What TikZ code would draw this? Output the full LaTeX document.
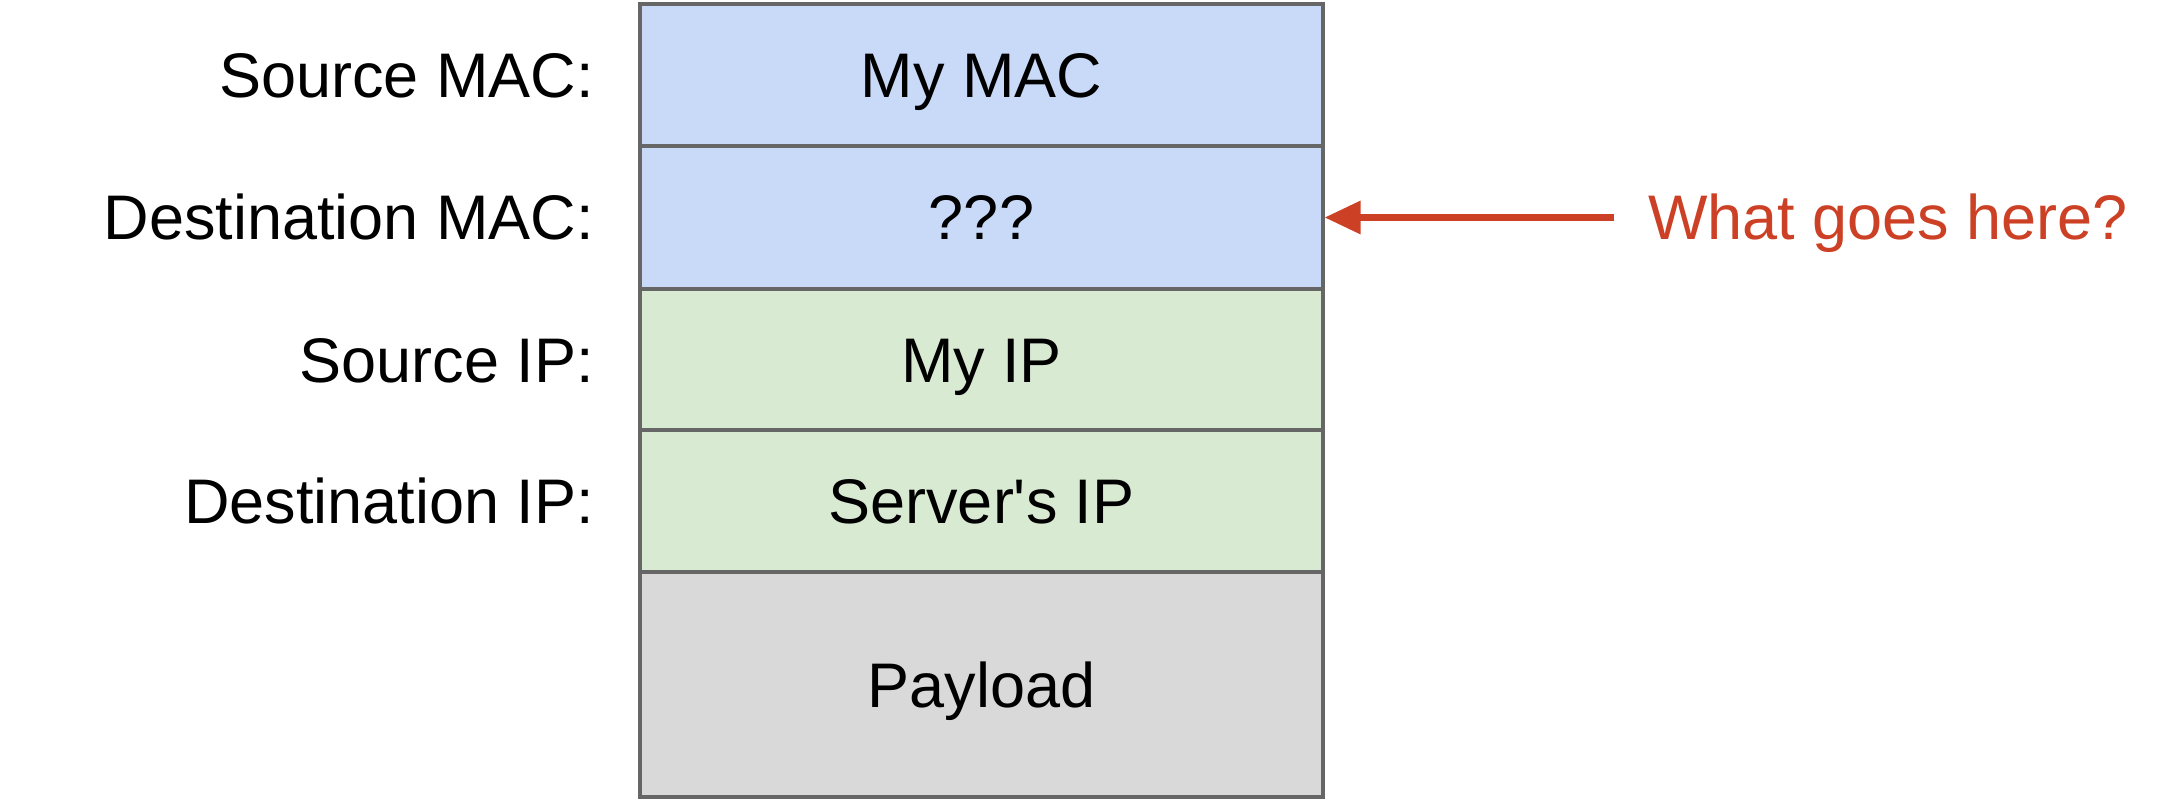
\documentclass[tikz,border=0pt]{standalone}
\usepackage{fontspec}
\setmainfont{Liberation Sans}[Ligatures=TeXOff]
\usetikzlibrary{arrows.meta}

\definecolor{macblue}{HTML}{C9DAF8}
\definecolor{ipgreen}{HTML}{D9EAD3}
\definecolor{loadgray}{HTML}{D9D9D9}
\definecolor{framegray}{HTML}{666666}
\definecolor{noteRed}{HTML}{CC4125}

\tikzset{
  txt/.style={font=\fontsize{63}{75}\selectfont, text height=45pt, text depth=0pt, inner sep=0pt},
  field/.style={txt, draw=framegray, line width=3.2pt, minimum width=683pt},
  label/.style={txt, anchor=east},
  note/.style={txt, text=noteRed, anchor=west},
  pointer/.style={draw=noteRed, line width=6.5pt, -{Triangle[length=36pt, width=32pt]}}
}

\begin{document}
\begin{tikzpicture}[x=1pt, y=-1pt]
  \useasboundingbox (0,0) rectangle (2177,802);

  % header fields, top to bottom
  \node[field, fill=macblue,  minimum height=142pt] (smac) at (981.5,75)    {My MAC};
  \node[field, fill=macblue,  minimum height=143pt] (dmac) at (981.5,217.5) {???};
  \node[field, fill=ipgreen,  minimum height=141pt] (sip)  at (981.5,359.5) {My IP};
  \node[field, fill=ipgreen,  minimum height=142pt] (dip)  at (981.5,501)   {Server's IP};
  \node[field, fill=loadgray, minimum height=225pt] (load) at (981.5,684.5) {Payload};

  % field names on the left
  \node[label] (lsmac) at (594,75)    {Source MAC:};
  \node[label] (ldmac) at (594,217.5) {Destination MAC:};
  \node[label] (lsip)  at (594,359.5) {Source IP:};
  \node[label] (ldip)  at (594,501)   {Destination IP:};

  % question pointing at the destination MAC
  \node[note] (q) at (1648,217.5) {What goes here?};
  \coordinate (qstart) at (1614,217.5);
  \draw[pointer] (qstart) -- (dmac.east);
\end{tikzpicture}
\end{document}
